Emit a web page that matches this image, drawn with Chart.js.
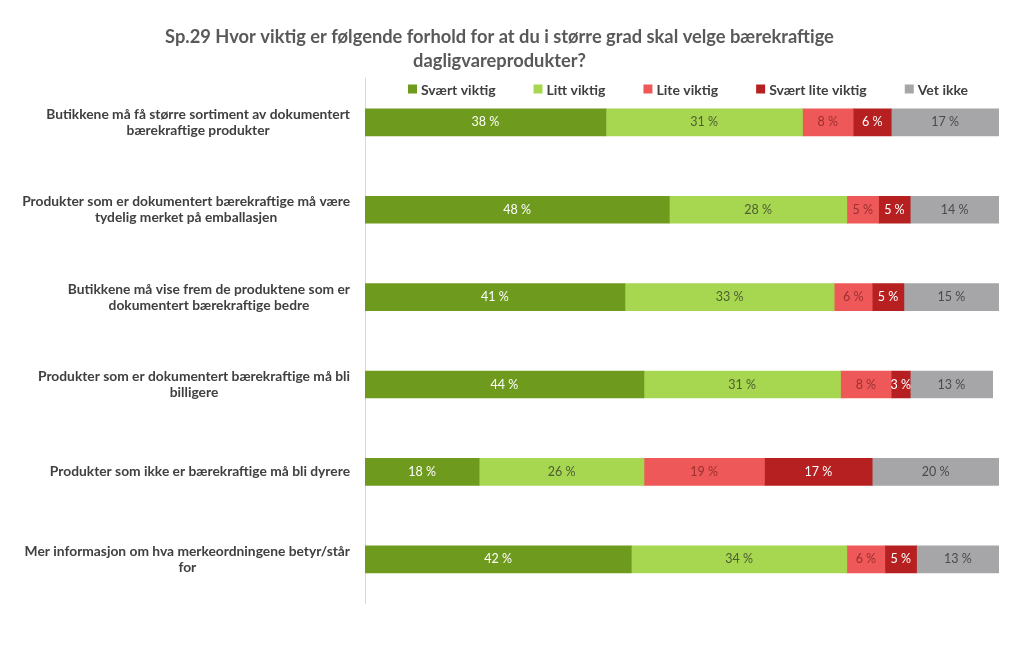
<!DOCTYPE html>
<html><head><meta charset="utf-8">
<script src="https://cdn.jsdelivr.net/npm/chart.js@4"></script>
<style>html,body{margin:0;padding:0;background:#fff}#wrap{width:1024px;height:667px}</style>
</head><body><div id="wrap"><canvas id="c" width="1024" height="667"></canvas></div>
<script>
const titleLines = ["Sp.29 Hvor viktig er følgende forhold for at du i større grad skal velge bærekraftige", "dagligvareprodukter?"];
const categories = [
  ["Butikkene må få større sortiment av dokumentert", "bærekraftige produkter"],
  ["Produkter som er dokumentert bærekraftige må være", "tydelig merket på emballasjen"],
  ["Butikkene må vise frem de produktene som er", "dokumentert bærekraftige bedre"],
  ["Produkter som er dokumentert bærekraftige må bli", "billigere"],
  ["Produkter som ikke er bærekraftige må bli dyrere"],
  ["Mer informasjon om hva merkeordningene betyr/står", "for"]
];
const seriesNames = ["Svært viktig", "Litt viktig", "Lite viktig", "Svært lite viktig", "Vet ikke"];
const sværtViktig = [38, 48, 41, 44, 18, 42];
const littViktig = [31, 28, 33, 31, 26, 34];
const liteViktig = [8, 5, 6, 8, 19, 6];
const sværtLiteViktig = [6, 5, 5, 3, 17, 5];
const vetIkke = [17, 14, 15, 13, 20, 13];

const colors = ["#6E9A1E", "#A7D650", "#EF5858", "#B62020", "#A6A6A8"];
const labelColors = ["#ffffff", "#4d5e33", "#9a3030", "#ffffff", "#4a4a4a"];
const seriesValues = [sværtViktig, littViktig, liteViktig, sværtLiteViktig, vetIkke];

const FONT = "Lato, 'Open Sans', sans-serif";

const labelPlugin = {
  id: 'customText',
  afterDatasetsDraw(chart) {
    const ctx = chart.ctx;
    ctx.save();
    ctx.font = "12.5px " + FONT;
    ctx.textAlign = "center";
    ctx.textBaseline = "middle";
    chart.data.datasets.forEach((ds, di) => {
      const meta = chart.getDatasetMeta(di);
      meta.data.forEach((bar, i) => {
        const v = ds.data[i];
        const cx = (bar.x + bar.base) / 2;
        ctx.fillStyle = labelColors[di];
        ctx.fillText(v + " %", cx, bar.y);
      });
    });
    ctx.restore();
  },
  afterDraw(chart) {
    const ctx = chart.ctx;
    const y = chart.scales.y;
    const area = chart.chartArea;
    ctx.save();
    // category labels
    ctx.font = "bold 13.8px " + FONT;
    ctx.fillStyle = "#404040";
    ctx.textBaseline = "middle";
    ctx.textAlign = "center";
    const lh = 16;
    chart.data.labels.forEach((lines, i) => {
      const cy = y.getPixelForValue(i);
      const w = Math.max(...lines.map(l => ctx.measureText(l).width));
      const right = area.left - 15;
      const cx = right - w / 2;
      const top = cy - (lines.length - 1) * lh / 2;
      lines.forEach((l, k) => ctx.fillText(l, cx, top + k * lh));
    });
    // legend
    ctx.font = "bold 14px " + FONT;
    ctx.textAlign = "left";
    const box = 9, gapBox = 4, spacing = 38;
    const widths = chart.data.datasets.map(d => box + gapBox + ctx.measureText(d.label).width);
    const total = widths.reduce((a, b) => a + b, 0) + spacing * (widths.length - 1);
    let x = (area.left + area.right) / 2 - total / 2 + 6;
    const ly = 89;
    chart.data.datasets.forEach((d, i) => {
      ctx.fillStyle = d.backgroundColor;
      ctx.fillRect(x, ly - box / 2, box, box);
      ctx.fillStyle = "#404040";
      ctx.fillText(d.label, x + box + gapBox, ly + 1);
      x += widths[i] + spacing;
    });
    ctx.restore();
  }
};

new Chart(document.getElementById('c'), {
  type: 'bar',
  data: {
    labels: categories,
    datasets: seriesNames.map((n, i) => ({
      label: n,
      data: seriesValues[i],
      backgroundColor: colors[i],
      borderWidth: 0,
      barThickness: 27
    }))
  },
  options: {
    indexAxis: 'y',
    responsive: false,
    animation: false,
    layout: { padding: { left: 0, right: 25, top: 0, bottom: 64 } },
    plugins: {
      legend: { display: false },
      tooltip: { enabled: false },
      title: {
        display: true,
        text: titleLines,
        color: "#595959",
        font: { family: FONT, size: 18.3, weight: 'bold', lineHeight: 1.33 },
        padding: { top: 25, bottom: 5 }
      }
    },
    scales: {
      x: { stacked: true, min: 0, max: 100, display: false },
      y: {
        stacked: true,
        ticks: { display: false },
        grid: { display: false },
        border: { display: true, color: "#d9d9d9", width: 1 },
        afterFit(s) { s.width = 365; }
      }
    }
  },
  plugins: [labelPlugin]
});
</script>
</body></html>
